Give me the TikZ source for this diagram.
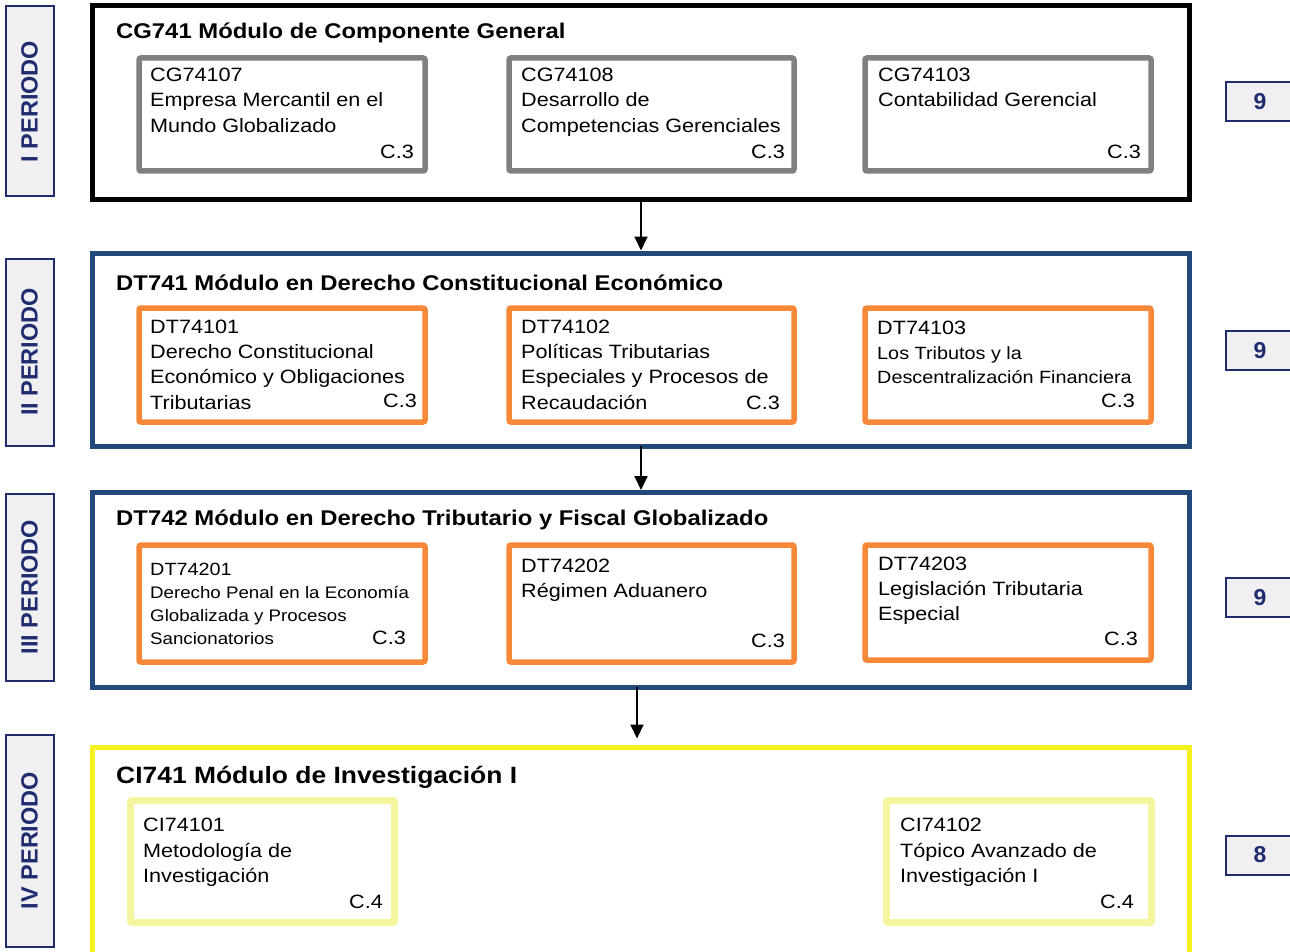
\documentclass[tikz,border=0pt]{standalone}
\usepackage{fontspec}
\setmainfont{Liberation Sans}[FakeStretch=1.12]
\newfontfamily\perfont{Liberation Sans}
\usetikzlibrary{arrows.meta}
\definecolor{navy}{RGB}{31,45,110}
\definecolor{modblue}{RGB}{35,72,122}
\definecolor{corange}{RGB}{246,136,56}
\definecolor{cgray}{RGB}{128,128,128}
\definecolor{myellow}{RGB}{245,240,30}
\definecolor{lyellow}{RGB}{245,245,160}
\definecolor{pfill}{RGB}{240,240,242}
\begin{document}
\begin{tikzpicture}[x=1pt,y=-1pt,
 frame/.style={draw,rectangle,inner sep=0pt,outer sep=0pt,anchor=north west},
 mod/.style={frame,line width=5pt},
 crs/.style={frame,line width=5.5pt,rounded corners=2pt},
 txt/.style={anchor=base west,inner sep=0pt,font=\fontsize{19.3}{23}\selectfont},
 sml/.style={anchor=base west,inner sep=0pt,font=\fontsize{17.7}{23}\selectfont},
 xsml/.style={anchor=base west,inner sep=0pt,font=\fontsize{16.7}{23}\selectfont},
 cr/.style={anchor=base east,inner sep=0pt,font=\fontsize{19.3}{23}\selectfont},
 ttl/.style={anchor=base west,inner sep=0pt,font=\fontsize{21.3}{25}\selectfont\bfseries},
 per/.style={draw=navy,fill=pfill,line width=2pt,rectangle,inner sep=0pt,outer sep=0pt},
 pertxt/.style={per,rotate=90,text=navy,font=\perfont\fontsize{23.5}{28}\selectfont\bfseries},
 num/.style={per,text=navy,font=\perfont\fontsize{23}{27}\selectfont\bfseries,minimum width=68pt,minimum height=39pt},
 arr/.style={line width=2pt,-{Triangle[length=14pt,width=13pt]}}
]
\useasboundingbox (0,0) rectangle (1290,952);
\fill[white] (0,0) rectangle (1290,952);
\clip (0,0) rectangle (1290,952);

% period labels
\node[pertxt,minimum width=190pt,minimum height=48pt] (p1) at (29.5,101.5) {I PERIODO};
\node[pertxt,minimum width=187pt,minimum height=48pt] (p2) at (29.5,352) {II PERIODO};
\node[pertxt,minimum width=187pt,minimum height=48pt] (p3) at (29.5,587) {III PERIODO};
\node[pertxt,minimum width=212pt,minimum height=48pt] (p4) at (29.5,840.5) {IV PERIODO};

% credit totals
\node[num] (n1) at (1260,101.5) {9};
\node[num] (n2) at (1260,350.5) {9};
\node[num] (n3) at (1260,597.5) {9};
\node[num] (n4) at (1260,855) {8};

% modules
\node[mod,draw=black,minimum width=1097pt,minimum height=193.5pt] (m1) at (92.5,6) {};
\node[mod,draw=modblue,minimum width=1097pt,minimum height=193pt] (m2) at (92.5,253) {};
\node[mod,draw=modblue,minimum width=1097pt,minimum height=194.5pt] (m3) at (92.5,492.5) {};
\node[mod,draw=myellow,minimum width=1097pt,minimum height=230pt] (m4) at (92.5,747.5) {};

\node[ttl] (h1) at (116,38.5) {CG741 Módulo de Componente General};
\node[ttl] (h2) at (116,290) {DT741 Módulo en Derecho Constitucional Económico};
\node[ttl] (h3) at (116,525) {DT742 Módulo en Derecho Tributario y Fiscal Globalizado};
\node[ttl,font=\fontsize{23.6}{27}\selectfont\bfseries] (h4) at (116,783) {CI741 Módulo de Investigación I};

% arrows
\draw[arr] (m1.south) -- ([yshift=2.5pt]m2.north);
\draw[arr] (m2.south) -- ([yshift=2.5pt]m3.north);
\draw[arr] ([xshift=-4pt]m3.south) -- ([xshift=-4pt,yshift=9pt]m4.north);

% row 1
\node[crs,draw=cgray,minimum width=286pt,minimum height=113pt] (c11) at (139,58) {};
\node[crs,draw=cgray,minimum width=285pt,minimum height=113pt] (c12) at (509,58) {};
\node[crs,draw=cgray,minimum width=286pt,minimum height=113pt] (c13) at (865,58) {};
\node[txt] (c11a) at (150,82) {CG74107};
\node[txt] (c11b) at (150,107) {Empresa Mercantil en el};
\node[txt] (c11c) at (150,133) {Mundo Globalizado};
\node[cr]  (c11d) at (414,159) {C.3};
\node[txt] (c12a) at (521,82) {CG74108};
\node[txt] (c12b) at (521,107) {Desarrollo de};
\node[txt] (c12c) at (521,133) {Competencias Gerenciales};
\node[cr]  (c12d) at (785,159) {C.3};
\node[txt] (c13a) at (878,82) {CG74103};
\node[txt] (c13b) at (878,107) {Contabilidad Gerencial};
\node[cr]  (c13d) at (1141,159) {C.3};

% row 2
\node[crs,draw=corange,minimum width=286pt,minimum height=114pt] (c21) at (139,308) {};
\node[crs,draw=corange,minimum width=285pt,minimum height=114pt] (c22) at (509,308) {};
\node[crs,draw=corange,minimum width=286pt,minimum height=114pt] (c23) at (865,308) {};
\node[txt] (c21a) at (150,333) {DT74101};
\node[txt] (c21b) at (150,358) {Derecho Constitucional};
\node[txt] (c21c) at (150,383) {Económico y Obligaciones};
\node[txt] (c21e) at (150,409) {Tributarias};
\node[cr]  (c21d) at (417,407) {C.3};
\node[txt] (c22a) at (521,333) {DT74102};
\node[txt] (c22b) at (521,358) {Políticas Tributarias};
\node[txt] (c22c) at (521,383) {Especiales y Procesos de};
\node[txt] (c22e) at (521,409) {Recaudación};
\node[cr]  (c22d) at (780,409) {C.3};
\node[txt] (c23a) at (877,334) {DT74103};
\node[sml] (c23b) at (877,359) {Los Tributos y la};
\node[sml] (c23c) at (877,383) {Descentralización Financiera};
\node[cr]  (c23d) at (1135,407) {C.3};

% row 3
\node[crs,draw=corange,minimum width=286pt,minimum height=117pt] (c31) at (139,545) {};
\node[crs,draw=corange,minimum width=285pt,minimum height=117pt] (c32) at (509,545) {};
\node[crs,draw=corange,minimum width=286pt,minimum height=115pt] (c33) at (865,545) {};
\node[sml] (c31a) at (150,575) {DT74201};
\node[xsml] (c31b) at (150,598) {Derecho Penal en la Economía};
\node[xsml] (c31c) at (150,621) {Globalizada y Procesos};
\node[xsml] (c31e) at (150,644) {Sancionatorios};
\node[cr]  (c31d) at (406,644) {C.3};
\node[txt] (c32a) at (521,572) {DT74202};
\node[txt] (c32b) at (521,597) {Régimen Aduanero};
\node[cr]  (c32d) at (785,647) {C.3};
\node[txt] (c33a) at (878,570) {DT74203};
\node[txt] (c33b) at (878,595) {Legislación Tributaria};
\node[txt] (c33c) at (878,620) {Especial};
\node[cr]  (c33d) at (1138,645) {C.3};

% row 4
\node[crs,draw=lyellow,line width=7pt,minimum width=264pt,minimum height=122pt] (c41) at (130.5,800.5) {};
\node[crs,draw=lyellow,line width=7pt,minimum width=265pt,minimum height=122pt] (c42) at (886.5,800.5) {};
\node[txt] (c41a) at (143,831) {CI74101};
\node[txt] (c41b) at (143,857) {Metodología de};
\node[txt] (c41c) at (143,882) {Investigación};
\node[cr]  (c41d) at (383,908) {C.4};
\node[txt] (c42a) at (900,831) {CI74102};
\node[txt] (c42b) at (900,857) {Tópico Avanzado de};
\node[txt] (c42c) at (900,882) {Investigación I};
\node[cr]  (c42d) at (1134,908) {C.4};
\end{tikzpicture}
\end{document}
